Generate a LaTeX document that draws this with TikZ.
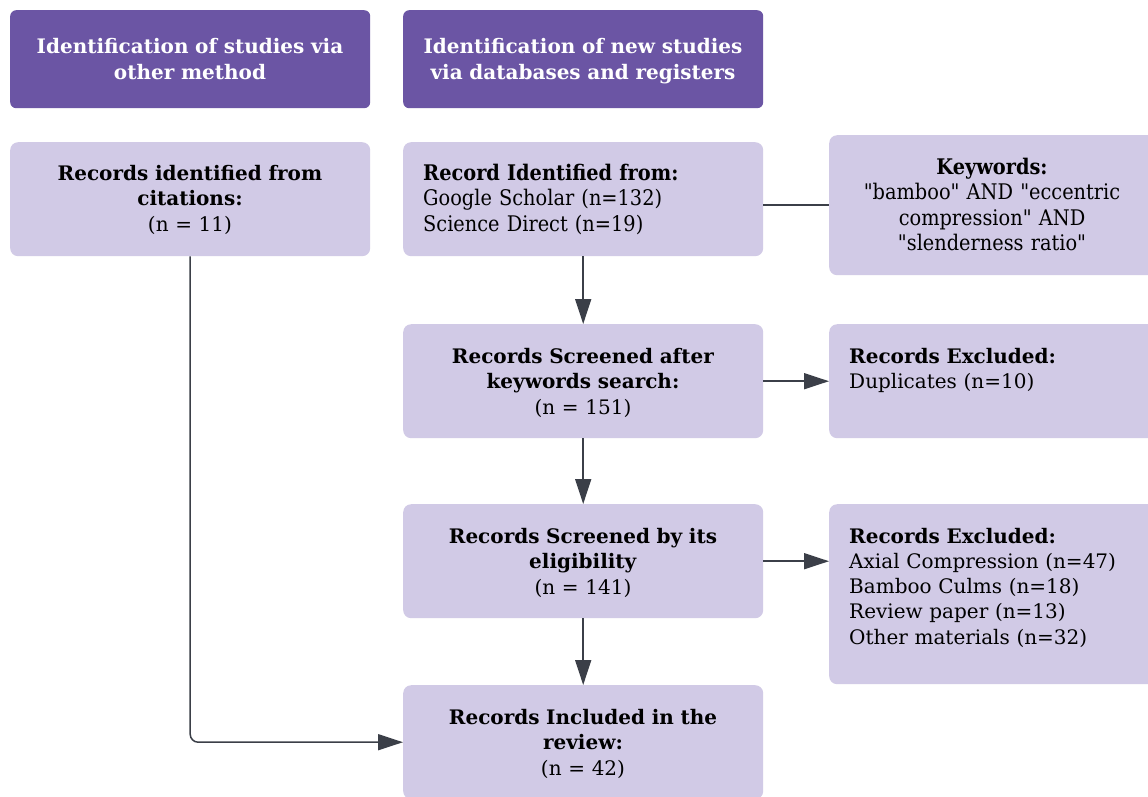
\documentclass[tikz,border=0pt]{standalone}
\usepackage{fontspec}
\setmainfont{DejaVu Serif}
\newfontfamily\condfont{DejaVu Serif Condensed}
\usetikzlibrary{arrows.meta,calc}
\definecolor{hdr}{HTML}{6B55A4}
\definecolor{boxc}{HTML}{D1CAE6}
\definecolor{linec}{HTML}{3B3F48}
\begin{document}
\begin{tikzpicture}[x=1pt,y=-1pt,
  hdrbox/.style={fill=hdr, draw=none, rounded corners=6pt, inner sep=0pt, anchor=north west},
  lbox/.style={fill=boxc, draw=none, rounded corners=8pt, inner sep=0pt, anchor=north west},
  hdrtext/.style={text=white, font=\fontsize{20}{26}\selectfont\bfseries, align=center, text width=350pt, inner sep=0pt, anchor=base},
  ctext/.style={text=black, font=\fontsize{20}{25.5}\selectfont, align=center, text width=350pt, inner sep=0pt, anchor=base},
  ltext/.style={text=black, font=\fontsize{20}{25.3}\selectfont, align=left, text width=300pt, inner sep=0pt, anchor=base west},
  condf/.style={font=\condfont\fontsize{21.5}{25.5}\selectfont},
  conn/.style={draw=linec, line width=1.5pt, -{Triangle[length=25pt,width=16pt]}},
  plainline/.style={draw=linec, line width=1.5pt}
]
\useasboundingbox (0,0) rectangle (1148,796);
\clip (0,0) rectangle (1148,796);
\fill[white] (0,0) rectangle (1148,796);

% header boxes
\node[hdrbox, minimum width=360pt, minimum height=98pt] (h1) at (10,10) {};
\node[hdrbox, minimum width=360pt, minimum height=98pt] (h2) at (403,10) {};
\node[hdrtext] (h1t) at (190,53) {Identification of studies via\\other method};
\node[hdrtext] (h2t) at (583,53) {Identification of new studies\\via databases and registers};

% boxes
\node[lbox, minimum width=360pt, minimum height=114pt] (cit) at (10,142) {};
\node[lbox, minimum width=360pt, minimum height=114pt] (recid) at (403,142) {};
\node[lbox, minimum width=340pt, minimum height=140pt] (kw) at (829,135) {};
\node[lbox, minimum width=360pt, minimum height=114pt] (scr1) at (403,324) {};
\node[lbox, minimum width=340pt, minimum height=114pt] (dup) at (829,324) {};
\node[lbox, minimum width=360pt, minimum height=114pt] (scr2) at (403,504) {};
\node[lbox, minimum width=340pt, minimum height=180pt] (exc) at (829,504) {};
\node[lbox, minimum width=360pt, minimum height=114pt] (incl) at (403,685) {};

% texts
\node[ctext] (citt) at (190,180) {\textbf{Records identified from}\\\textbf{citations:}\\(n = 11)};
\node[ltext, condf] (recidt) at (423,180) {\textbf{Record Identified from:}\\Google Scholar (n=132)\\Science Direct (n=19)};
\node[ctext, condf] (kwt) at (992,174) {\textbf{Keywords:}\\"bamboo" AND "eccentric\\compression" AND\\"slenderness ratio"};
\node[ctext] (scr1t) at (583,363) {\textbf{Records Screened after}\\\textbf{keywords search:}\\(n = 151)};
\node[ltext] (dupt) at (849,363) {\textbf{Records Excluded:}\\Duplicates (n=10)};
\node[ctext] (scr2t) at (583,543) {\textbf{Records Screened by its}\\\textbf{eligibility}\\(n = 141)};
\node[ltext] (exct) at (849,543) {\textbf{Records Excluded:}\\Axial Compression (n=47)\\Bamboo Culms (n=18)\\Review paper (n=13)\\Other materials (n=32)};
\node[ctext] (inclt) at (583,724) {\textbf{Records Included in the}\\\textbf{review:}\\(n = 42)};

% connectors
\draw[plainline] (kw.west -| recid.east) -- (kw.west);
\draw[conn] (recid.south) -- (scr1.north);
\draw[conn] (scr1.east) -- (dup.west);
\draw[conn] (scr1.south) -- (scr2.north);
\draw[conn] (scr2.east) -- (scr2.east -| exc.west);
\draw[conn] (scr2.south) -- (incl.north);
\draw[conn, rounded corners=8pt] (cit.south) |- (incl.west);
\end{tikzpicture}
\end{document}
